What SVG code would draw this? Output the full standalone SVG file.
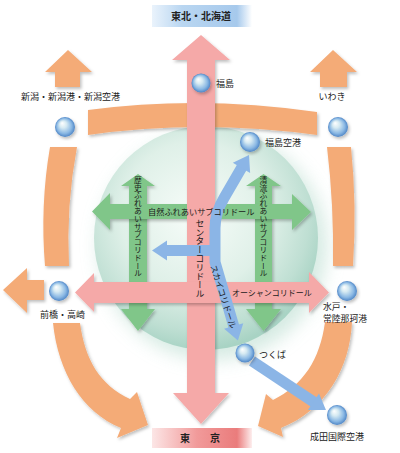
<svg xmlns="http://www.w3.org/2000/svg" width="400" height="453" viewBox="0 0 400 453">
<style>
text{font-family:"Noto Sans CJK JP","Noto Sans",sans-serif;fill:#222}
.lbl{font-size:9px}
.ban{font-size:10px;font-weight:bold}
.cor{font-size:8.2px;fill:#1a1a1a}
.vt{writing-mode:vertical-rl}
.or{fill:#f4ab77;filter:url(#sh)}
.pk{fill:#f5a9a8;filter:url(#sh)}
.gr{fill:#80c689;filter:url(#sh)}
.bl{fill:none;stroke:#8bb5e6;stroke-width:11}
.ball{fill:url(#ball);filter:url(#sh)}
</style>
<defs>
<filter id="sh" x="-20%" y="-20%" width="140%" height="140%"><feDropShadow dx="1.5" dy="2" stdDeviation="1.5" flood-color="#000" flood-opacity="0.25"/></filter>
<filter id="blur" x="-30%" y="-30%" width="160%" height="160%"><feGaussianBlur stdDeviation="9"/></filter>
<radialGradient id="globe" cx="45%" cy="40%" r="60%"><stop offset="0" stop-color="#f7fcf9"/><stop offset="0.55" stop-color="#dff0e8"/><stop offset="0.85" stop-color="#bfdfd3"/><stop offset="1" stop-color="#a8d3c4"/></radialGradient>
<radialGradient id="ball" cx="50%" cy="50%" r="50%" fx="35%" fy="30%"><stop offset="0" stop-color="#ffffff"/><stop offset="0.35" stop-color="#d6eaf2"/><stop offset="0.75" stop-color="#8ab8e4"/><stop offset="1" stop-color="#4f86c6"/></radialGradient>
<linearGradient id="bnB" x1="0" x2="1" y1="0" y2="0"><stop offset="0" stop-color="#eaf3fc"/><stop offset="0.3" stop-color="#b9d6f1"/><stop offset="0.85" stop-color="#a6c9ec"/><stop offset="1" stop-color="#ffffff"/></linearGradient>
<linearGradient id="bnR" x1="0" x2="1" y1="0" y2="0"><stop offset="0" stop-color="#fce6e6"/><stop offset="0.45" stop-color="#f19a9a"/><stop offset="0.85" stop-color="#ea7c7c"/><stop offset="1" stop-color="#fdeeee"/></linearGradient>
<marker id="bh" markerUnits="userSpaceOnUse" markerWidth="40" markerHeight="40" viewBox="-20 -20 40 40" refX="0" refY="0" orient="auto-start-reverse" overflow="visible"><path d="M-1,-10 L14,0 L-1,10 Z" fill="#8bb5e6"/></marker>
</defs>

<g id="background">
<circle cx="213" cy="246" r="114" fill="#c4e2d7" opacity="0.7" filter="url(#blur)"/>
<circle cx="206" cy="238" r="112" fill="url(#globe)"/>
</g>

<g id="connectors">
<g id="orange">
<polygon class="or" points="68,50 92,72 80,72 80,87 55,87 55,72 45,72"/>
<polygon class="or" points="333,50 357,72 347,72 347,87 320,87 320,72 310,72"/>
<path class="or" d="M88 110 Q200 95 317 112 L317 135 Q200 119 88 135 Z"/>
<path class="or" d="M50 147 L77 147 Q66 205 69 266 L45 266 Q40 205 50 147 Z"/>
<path class="or" d="M327 147 L351 147 Q357 205 353 266 L333 266 Q334 205 327 147 Z"/>
<polygon class="or" points="3,290 27,268 27,280 44,280 44,300 27,300 27,313"/>
<path class="or" d="M53 323 L80 323 C85 360 100 385 130 399 L137 392 L148 425 L117 438 L121 428 C82 412 58 372 53 323 Z"/>
<path class="or" d="M325 322 L352 322 C350 368 326 410 281 428 L283 437 L258 426 L266 394 L273 400 C303 385 320 360 325 322 Z"/>
</g>
<g id="green">
<polygon class="gr" points="138,174 155,186 147,186 147,309 155,309 138,331 121,309 129,309 129,186 121,186"/>
<polygon class="gr" points="263.5,174 281,186 272,186 272,309 281,309 263.5,331 246,309 255,309 255,186 246,186"/>
<polygon class="gr" points="92,211.5 110,193 110,204 292,204 292,194 311,212 292,230 292,219 110,219 110,230"/>
</g>
<g id="pink">
<polygon class="pk" points="201,35 230,60 215,60 215,393 229,393 201,424 173,393 187,393 187,60 172,60"/>
<polygon class="pk" points="75,292.5 94,273 94,282 309,282 309,272 329,292.5 309,313 309,303 94,303 94,312"/>
</g>
<g id="blue">
<path class="bl" d="M242 167 L224 198 Q215 213 215 228 L215 262 L234 327" marker-start="url(#bh)" marker-end="url(#bh)"/>
<line class="bl" x1="216" y1="250.5" x2="166" y2="250.5" marker-end="url(#bh)"/>
<line class="bl" stroke-width="10" x1="252" y1="361" x2="314.3" y2="402.3" marker-end="url(#bh)"/>
</g>
<g id="corridor-labels">
<text class="cor" x="148" y="214.5">自然ふれあいサブコリドール</text>
<text class="cor vt" style="font-size:7.8px" x="138" y="176">歴史ふれあいサブコリドール</text>
<text class="cor vt" style="font-size:7.8px" x="263.5" y="176">清流ふれあいサブコリドール</text>
<text class="cor vt" style="font-size:8.8px" x="200" y="219">センターコリドール</text>
<text class="cor" style="font-size:8px" x="232" y="296">オーシャンコリドール</text>
<text class="cor" style="font-size:8.3px" transform="translate(213,265) rotate(72)" y="3">スカイコリドール</text>
</g>
</g>

<g id="banner-north"><rect x="152" y="5" width="100" height="22" fill="url(#bnB)"/><text class="ban" x="201" y="20" text-anchor="middle">東北・北海道</text></g>
<g id="banner-tokyo"><rect x="152" y="428" width="100" height="20" fill="url(#bnR)"/><text class="ban" x="180" y="442" letter-spacing="5">東　京</text></g>

<g id="node-fukushima"><circle class="ball" cx="201" cy="83" r="9.5"/><text class="lbl" x="216" y="86.5">福島</text></g>
<g id="node-niigata"><circle class="ball" cx="65" cy="127" r="10"/><text class="lbl" x="21" y="100">新潟・新潟港・新潟空港</text></g>
<g id="node-iwaki"><circle class="ball" cx="338" cy="127" r="10"/><text class="lbl" x="332" y="100" text-anchor="middle">いわき</text></g>
<g id="node-fukushima-airport"><circle class="ball" cx="250" cy="142" r="10"/><text class="lbl" x="265" y="146">福島空港</text></g>
<g id="node-maebashi"><circle class="ball" cx="59" cy="291" r="10"/><text class="lbl" x="40" y="318">前橋・高崎</text></g>
<g id="node-mito"><circle class="ball" cx="347" cy="291" r="10"/><text class="lbl" style="font-size:8.8px" x="323" y="310">水戸・</text><text class="lbl" style="font-size:8.8px" x="323" y="321.5">常陸那珂港</text></g>
<g id="node-tsukuba"><circle class="ball" cx="245" cy="353" r="9.5"/><text class="lbl" x="259" y="357.5">つくば</text></g>
<g id="node-narita"><circle class="ball" cx="337" cy="415" r="10"/><text class="lbl" x="310" y="439.5">成田国際空港</text></g>
</svg>
